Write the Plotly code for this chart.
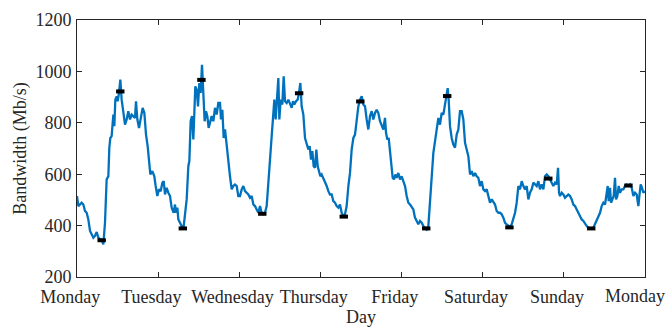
import plotly.graph_objects as go

# time in hours since Monday 00:00
hours = [
    0.0, 0.40, 1.38, 1.87, 2.37, 2.86, 3.35, 3.85, 4.34, 4.83, 5.32, 5.82, 6.31, 6.80, 7.30, 7.79,
    8.28, 8.77, 9.27, 9.56, 9.86, 10.25, 10.75, 11.04, 11.34, 11.73, 12.03, 12.42, 12.82, 13.21,
    13.70, 14.20, 14.69, 15.18, 15.68, 16.17, 16.66, 17.16, 17.45, 17.85, 18.34, 18.83, 19.42,
    19.92, 20.41, 20.90, 21.30, 21.69, 22.28, 22.87, 23.27, 23.76, 24.25, 24.75, 25.24, 25.64,
    26.03, 26.52, 27.02, 27.51, 28.00, 28.59,
    28.99, 29.28, 29.68, 29.97, 30.47, 30.96, 31.45, 31.95, 32.44, 32.93, 33.23, 33.62, 34.02,
    34.41, 34.70, 35.00, 35.40, 35.79, 36.18, 36.58, 36.97, 37.37, 37.76, 38.16, 38.55, 38.94,
    39.34, 39.83, 40.33, 40.82, 41.31, 41.80, 42.30, 42.59, 42.99, 43.38, 43.78, 44.27, 44.76,
    45.25, 45.75, 46.24, 46.73, 47.23, 47.72, 48.21, 48.71, 49.20, 49.69, 50.19, 50.68, 51.17,
    51.66, 52.16, 52.65, 53.14, 53.64, 54.13, 54.62, 55.11, 55.61, 56.10, 56.59,
    57.09, 57.58, 58.07, 58.37, 58.76, 59.16, 59.55, 59.85, 60.24, 60.73, 61.13, 61.52, 62.02,
    62.51, 63.00, 63.50, 63.89, 64.28, 64.78, 65.27, 65.66, 66.06, 66.45, 66.95, 67.44, 67.93,
    68.43, 68.82, 69.21, 69.61, 70.00, 70.40, 70.79, 71.19, 71.58, 71.97, 72.37, 72.86, 73.35,
    73.85, 74.34, 74.83, 75.33, 75.82, 76.31, 76.81, 77.30, 77.79, 78.28, 78.78, 79.27, 79.76,
    80.26, 80.75, 81.24, 81.74, 82.23, 82.72, 83.21, 83.71, 84.20, 84.69,
    85.19, 85.68, 86.17, 86.67, 87.16, 87.65, 88.14, 88.64, 89.13, 89.62, 90.12, 90.61, 91.10,
    91.40, 91.79, 92.19, 92.58, 93.07, 93.37, 93.76, 94.16, 94.55, 95.04, 95.54, 96.03, 96.52,
    97.02, 97.51, 98.00, 98.50, 98.99, 99.48, 99.97, 100.47, 100.96, 101.45, 101.95, 102.44,
    102.93, 103.43, 103.92, 104.41, 104.91, 105.40, 105.89, 106.38, 106.88, 107.37, 107.86,
    108.36, 108.85, 109.34, 109.64, 109.93, 110.33, 110.82, 111.31, 111.81, 112.30, 112.79,
    113.28, 113.78, 114.27, 114.77, 115.26, 115.75, 116.25, 116.74, 117.23, 117.73, 118.22,
    118.71, 119.20, 119.70, 120.19, 120.68, 121.18, 121.67, 122.16, 122.66, 123.15, 123.64,
    124.13, 124.63, 125.12, 125.61, 126.11, 126.60, 127.09, 127.59, 128.08, 128.57, 129.06,
    129.56, 130.05, 130.54, 131.04, 131.53, 132.02, 132.52, 133.01, 133.50, 133.99, 134.49,
    134.98, 135.47, 135.97, 136.46, 136.95, 137.45, 137.94, 138.43, 138.92, 139.42, 139.91,
    140.40, 140.89,
    141.39, 141.88, 142.28, 142.57, 142.87, 143.36, 143.85, 144.35, 144.84, 145.33, 145.83,
    146.32, 146.81, 147.30, 147.80, 148.29, 148.78, 149.28, 149.77, 150.26, 150.76, 151.25,
    151.74, 152.23, 152.73, 153.22, 153.71, 154.21, 154.70, 155.19, 155.69, 156.18, 156.67,
    156.97, 157.26, 157.66, 157.95, 158.35, 158.74, 159.13, 159.43, 159.83, 160.22, 160.62,
    161.11, 161.60, 162.09, 162.59, 163.08, 163.57, 164.07, 164.56, 165.05, 165.54, 166.04,
    166.33, 166.73, 167.12, 167.52, 167.91, 168.0,
]

bandwidth = [
    515, 476, 489, 482, 457, 450, 424, 379, 366, 353, 360, 375, 353, 347, 344, 327,
    411, 580, 592, 703, 741, 748, 832, 787, 890, 903, 884, 916, 968, 890,
    838, 793, 813, 845, 813, 832, 825, 819, 884, 813, 780, 819, 858,
    838, 754, 709, 638, 599, 612, 592, 554, 515, 541, 534, 567, 573,
    521, 547, 528, 515, 470, 450,
    482, 450, 470, 424, 411, 398, 385, 444, 502, 631, 651, 806, 826,
    735, 851, 942, 929, 864, 955, 916, 1026, 916, 806, 845, 826, 780,
    800, 826, 806, 858, 832, 877, 877, 813, 851, 741, 774, 703, 651,
    592, 541, 554, 560, 554, 515, 515, 541, 554, 534, 528, 521, 508,
    515, 482, 476, 463, 450, 476, 450, 444, 450, 476, 554,
    657, 748, 826, 890, 813, 890, 974, 813, 890, 871, 981, 884, 877,
    890, 871, 858, 884, 871, 884, 890, 916, 955, 864, 832, 741, 715,
    696, 709, 657, 690, 631, 625, 696, 631, 605, 592, 599, 586, 573,
    554, 534, 521, 521, 495, 489, 476, 470, 482, 450, 437, 444, 476,
    554, 605, 696, 741, 754, 806, 864, 890, 903, 871,
    864, 813, 774, 826, 845, 813, 838, 851, 838, 806, 793, 774, 819,
    761, 735, 741, 690, 638, 586, 580, 599, 586, 605, 580, 592, 573,
    554, 515, 489, 482, 470, 463, 431, 418, 405, 418, 411, 398,
    392, 385, 398, 502, 592, 683, 728, 774, 819, 793, 838,
    832, 871, 916, 935, 890, 787, 741, 715, 703, 754, 774,
    845, 845, 813, 722, 696, 670, 599, 612, 592, 605, 592,
    586, 554, 573, 541, 534, 541, 515, 489, 502, 489, 482,
    457, 450, 450, 444, 431, 411, 405, 398, 394, 405, 424,
    450, 489, 554, 541, 573, 554, 541, 554, 502, 528, 541,
    567, 560, 554, 573, 541, 560, 541, 592, 599, 592, 580,
    567, 554,
    567, 560, 625, 528, 515, 528, 521, 508, 515, 521, 515,
    502, 482, 476, 463, 450, 437, 424, 418, 405, 398, 392,
    389, 388, 392, 405, 418, 437, 450, 476, 489, 482, 528,
    554, 495, 547, 489, 502, 515, 586, 502, 515, 554, 528,
    541, 541, 554, 560, 554, 560, 547, 515, 528, 521, 476,
    515, 560, 547, 528, 534, 530,
]

# daily minimum / maximum markers
marker_hours = [7.3, 12.8, 31.3, 36.8, 54.8, 65.7, 78.9, 83.8, 103.3, 109.5, 127.9, 139.4, 152.1, 163.1]
marker_values = [343, 922, 389, 967, 446, 915, 435, 883, 389, 904, 393, 583, 389, 556]

tick_hours = [0, 24, 48, 72, 96, 120, 144, 168]
tick_labels = ["Monday", "Tuesday", "Wednesday", "Thursday", "Friday", "Saturday", "Sunday", "Monday"]
y_ticks = [200, 400, 600, 800, 1000, 1200]

font_family = "Liberation Serif"
text_color = "#262626"

# labels in the reference sit slightly left of their ticks; pad with invisible no-break spaces.
# The last label would spill past the page edge, so it is drawn right-aligned as an annotation.
pad = "\u00a0\u00a0\u00a0"
tick_text = [lbl + pad for lbl in tick_labels[:-1]] + [""]

fig = go.Figure()
fig.add_trace(go.Scatter(
    x=hours, y=bandwidth, mode="lines",
    line=dict(color="#0072BD", width=2.3),
    showlegend=False, hoverinfo="skip",
))
fig.add_trace(go.Scatter(
    x=marker_hours, y=marker_values, mode="markers",
    marker=dict(symbol="line-ew", size=6, color="black",
                line=dict(color="black", width=4)),
    showlegend=False,
))

axis_common = dict(
    showline=True, linecolor=text_color, linewidth=1, mirror="ticks",
    ticks="inside", ticklen=5, tickcolor=text_color, tickwidth=1,
    showgrid=False, zeroline=False, automargin=False,
    tickfont=dict(family=font_family, size=18, color=text_color),
)

fig.update_xaxes(
    range=[0, 168], tickvals=tick_hours, ticktext=tick_text, tickangle=0,
    ticklabeloverflow="allow", ticklabelstandoff=3,
    title=dict(text="Day", font=dict(family=font_family, size=18, color=text_color), standoff=5),
    **axis_common,
)
fig.update_yaxes(
    range=[200, 1200], tickvals=y_ticks, ticklabelstandoff=1,
    title=dict(text="Bandwidth (Mb/s)", font=dict(family=font_family, size=18, color=text_color), standoff=4),
    **axis_common,
)

fig.add_annotation(
    x=tick_hours[-1], xref="x", y=0, yref="paper",
    text=tick_labels[-1], showarrow=False,
    xanchor="right", yanchor="top", xshift=22, yshift=-7,
    font=dict(family=font_family, size=18, color=text_color),
)

fig.update_layout(
    width=670, height=327,
    margin=dict(l=77, r=25, t=20, b=50),
    paper_bgcolor="white", plot_bgcolor="white",
    font=dict(family=font_family, color=text_color),
)

fig.write_html("out.html")
